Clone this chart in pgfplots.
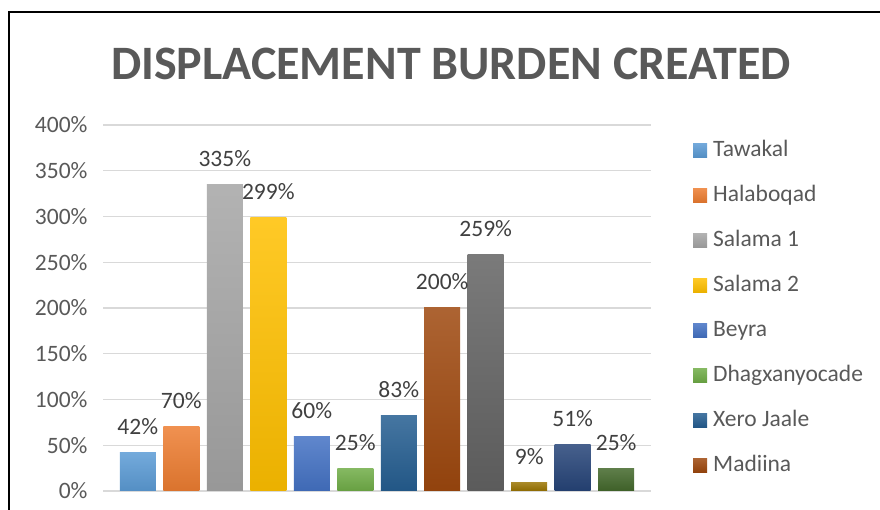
\documentclass[border=0pt]{standalone}
\usepackage{pgfplots}
\pgfplotsset{compat=1.18}
\usepackage{fontspec}
\setmainfont{Carlito}
\definecolor{ca}{HTML}{5B9BD5}
\definecolor{cb}{HTML}{ED7D31}
\definecolor{cc}{HTML}{A5A5A5}
\definecolor{cd}{HTML}{FFC000}
\definecolor{ce}{HTML}{4472C4}
\definecolor{cf}{HTML}{70AD47}
\definecolor{cg}{HTML}{255E91}
\definecolor{ch}{HTML}{9E480E}
\definecolor{ci}{HTML}{636363}
\definecolor{cj}{HTML}{997300}
\definecolor{ck}{HTML}{264478}
\definecolor{cl}{HTML}{43682B}
\definecolor{txt}{HTML}{595959}
\definecolor{lbl}{HTML}{404040}
\definecolor{grd}{HTML}{D9D9D9}
\tikzset{barc/.style={draw=none, top color=#1!85!white, bottom color=#1!92!black}}
\begin{document}
\begin{tikzpicture}[x=1pt,y=1pt]
\useasboundingbox (0,0) rectangle (880,510);
\draw[line width=2.5pt] (9,-20) -- (9,498) -- (900,498);
\node[anchor=base, font=\fontsize{48}{57}\selectfont\bfseries, text=txt] at (451,430) {DISPLACEMENT BURDEN CREATED};
\begin{axis}[
  at={(103pt,19pt)}, anchor=south west,
  scale only axis, width=548pt, height=366pt,
  xmin=-0.8, xmax=11.8, ymin=0, ymax=400,
  ytick={0,50,...,400}, xtick=\empty,
  yticklabel={\pgfmathprintnumber{\tick}\%},
  /pgf/number format/assume math mode=true,
  ticklabel style={font=\fontsize{23.5}{28}\selectfont, text=txt},
  yticklabel style={xshift=-12pt},
  major tick length=0pt,
  axis line style={draw=none},
  ymajorgrids, grid style={grd, line width=1.3pt},
  clip=false,
  ybar, bar width=36pt, bar shift=0pt,
  nodes near coords={\pgfmathprintnumber{\pgfplotspointmeta}\%},
  nodes near coords style={font=\fontsize{23.5}{28}\selectfont, text=lbl, anchor=base, inner sep=0pt, yshift=18pt, /pgf/number format/assume math mode=true},
  legend image code/.code={\path[#1] (0pt,-7pt) rectangle (14pt,7pt);},
  legend style={at={(1.0766,0.962)}, anchor=north west, draw=none, fill=none, inner sep=0pt,
    row sep=23pt, font=\fontsize{23.5}{28}\selectfont, text=txt,
    nodes={inner sep=0pt, text height=17pt, text depth=5pt, anchor=west},
    /tikz/every odd column/.append style={column sep=6pt}},
  legend cell align=left,
  legend entries={Tawakal,Halaboqad,Salama 1,Salama 2,Beyra,Dhagxanyocade,Xero Jaale,Madiina},
]
\addplot[barc=ca] coordinates {(0,42)};
\addplot[barc=cb] coordinates {(1,70)};
\addplot[barc=cc] coordinates {(2,335)};
\addplot[barc=cd] coordinates {(3,299)};
\addplot[barc=ce] coordinates {(4,60)};
\addplot[barc=cf] coordinates {(5,25)};
\addplot[barc=cg] coordinates {(6,83)};
\addplot[barc=ch] coordinates {(7,200)};
\addplot[barc=ci] coordinates {(8,259)};
\addplot[barc=cj] coordinates {(9,9)};
\addplot[barc=ck] coordinates {(10,51)};
\addplot[barc=cl] coordinates {(11,25)};
\end{axis}
\end{tikzpicture}
\end{document}
